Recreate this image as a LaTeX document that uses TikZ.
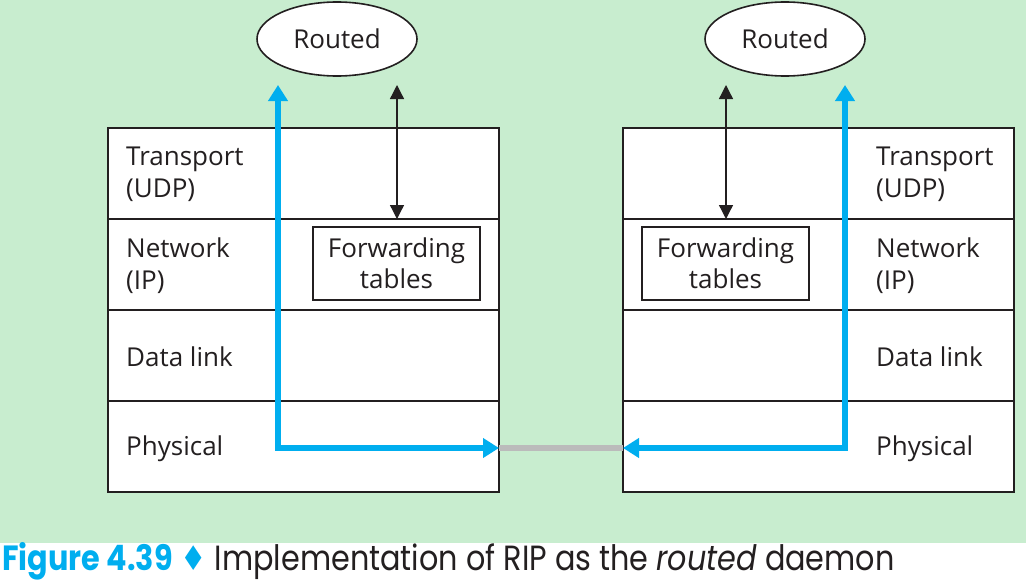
\documentclass[tikz,border=0pt]{standalone}
\usepackage{fontspec}
\setmainfont{Open Sans}
\newfontfamily\capfont{Poppins}
\newfontfamily\symfont{DejaVu Sans}
\usetikzlibrary{arrows.meta,shapes.geometric}
\definecolor{bggreen}{HTML}{C8EDCF}
\definecolor{rblue}{HTML}{00AEEF}
\definecolor{ink}{HTML}{231F20}
\definecolor{linkgray}{HTML}{BBBBBB}
\tikzset{
  layer/.style={draw=ink, line width=2pt, fill=white, minimum width=391pt, minimum height=91pt, inner sep=0pt, outer sep=0pt},
  lbl/.style={anchor=base west, align=left, font=\fontsize{26}{32}\selectfont, text=ink, inner sep=0pt},
  fwd/.style={draw=ink, line width=1.6pt, fill=white, minimum width=167pt, minimum height=73pt, align=center, font=\fontsize{26}{31}\selectfont, text=ink, inner sep=0pt},
  daemon/.style={ellipse, draw=ink, line width=1.6pt, fill=white, minimum width=160pt, minimum height=74pt, font=\fontsize{26}{30}\selectfont, text=ink, inner sep=0pt},
  ctl/.style={ink, line width=1.3pt, {Triangle[width=14pt,length=14pt]}-{Triangle[width=14pt,length=14pt]}},
  rip/.style={rblue, line width=5.5pt, {Triangle[width=19pt,length=16pt]}-{Triangle[width=19pt,length=16pt]}},
  link/.style={linkgray, line width=6.5pt},
}
\begin{document}
\begin{tikzpicture}[x=1pt,y=-1pt]
\useasboundingbox (0,0) rectangle (1026,581);
\fill[bggreen] (0,0) rectangle (1026,543);
% left stack
\node[layer] (L1) at (303.5,173.5) {};
\node[layer] (L2) at (303.5,264.5) {};
\node[layer] (L3) at (303.5,355.5) {};
\node[layer] (L4) at (303.5,446.5) {};
% right stack
\node[layer] (R1) at (818.5,173.5) {};
\node[layer] (R2) at (818.5,264.5) {};
\node[layer] (R3) at (818.5,355.5) {};
\node[layer] (R4) at (818.5,446.5) {};
% labels
\node[lbl] (lt1) at (126,165) {Transport};
\node[lbl] (lt1b) at (126,197) {(UDP)};
\node[lbl] (lt2) at (126,257) {Network};
\node[lbl] (lt2b) at (126,289) {(IP)};
\node[lbl] (lt3) at (126,366) {Data link};
\node[lbl] (lt4) at (126,455) {Physical};
\node[lbl] (rt1) at (876,165) {Transport};
\node[lbl] (rt1b) at (876,197) {(UDP)};
\node[lbl] (rt2) at (876,257) {Network};
\node[lbl] (rt2b) at (876,289) {(IP)};
\node[lbl] (rt3) at (876,366) {Data link};
\node[lbl] (rt4) at (876,455) {Physical};
% forwarding tables
\node[fwd] (LF) at (396.5,263.5) {Forwarding\\tables};
\node[fwd] (RF) at (725.5,263.5) {Forwarding\\tables};
% daemons
\node[daemon] (LD) at (337,39) {Routed};
\node[daemon] (RD) at (785,39) {Routed};
% connector ends
\coordinate (ltop) at (397,85);
\coordinate (lbot) at (397,219);
\coordinate (rtop) at (726,85);
\coordinate (rbot) at (726,219);
\coordinate (lup) at (278,85);
\coordinate (lcorner) at (278,448);
\coordinate (lend) at (499,448);
\coordinate (rup) at (845,85);
\coordinate (rcorner) at (845,448);
\coordinate (rend) at (623,448);
% link
\draw[link] (lend) -- (rend);
% control arrows
\draw[ctl] (ltop) -- (lbot);
\draw[ctl] (rtop) -- (rbot);
% RIP paths
\draw[rip] (lup) -- (lcorner) -- (lend);
\draw[rip] (rup) -- (rcorner) -- (rend);
% caption
\node[anchor=base west, inner sep=0pt, font=\fontsize{35}{40}\selectfont] (cap) at (2,570)
  {\scalebox{0.865}[1]{{\capfont\bfseries\color{rblue}Figure 4.39} {\symfont\color{rblue}\fontsize{34}{36}\selectfont ♦} {\capfont\color{ink}Implementation of RIP as the \itshape routed\upshape{} daemon}}};
\end{tikzpicture}
\end{document}
